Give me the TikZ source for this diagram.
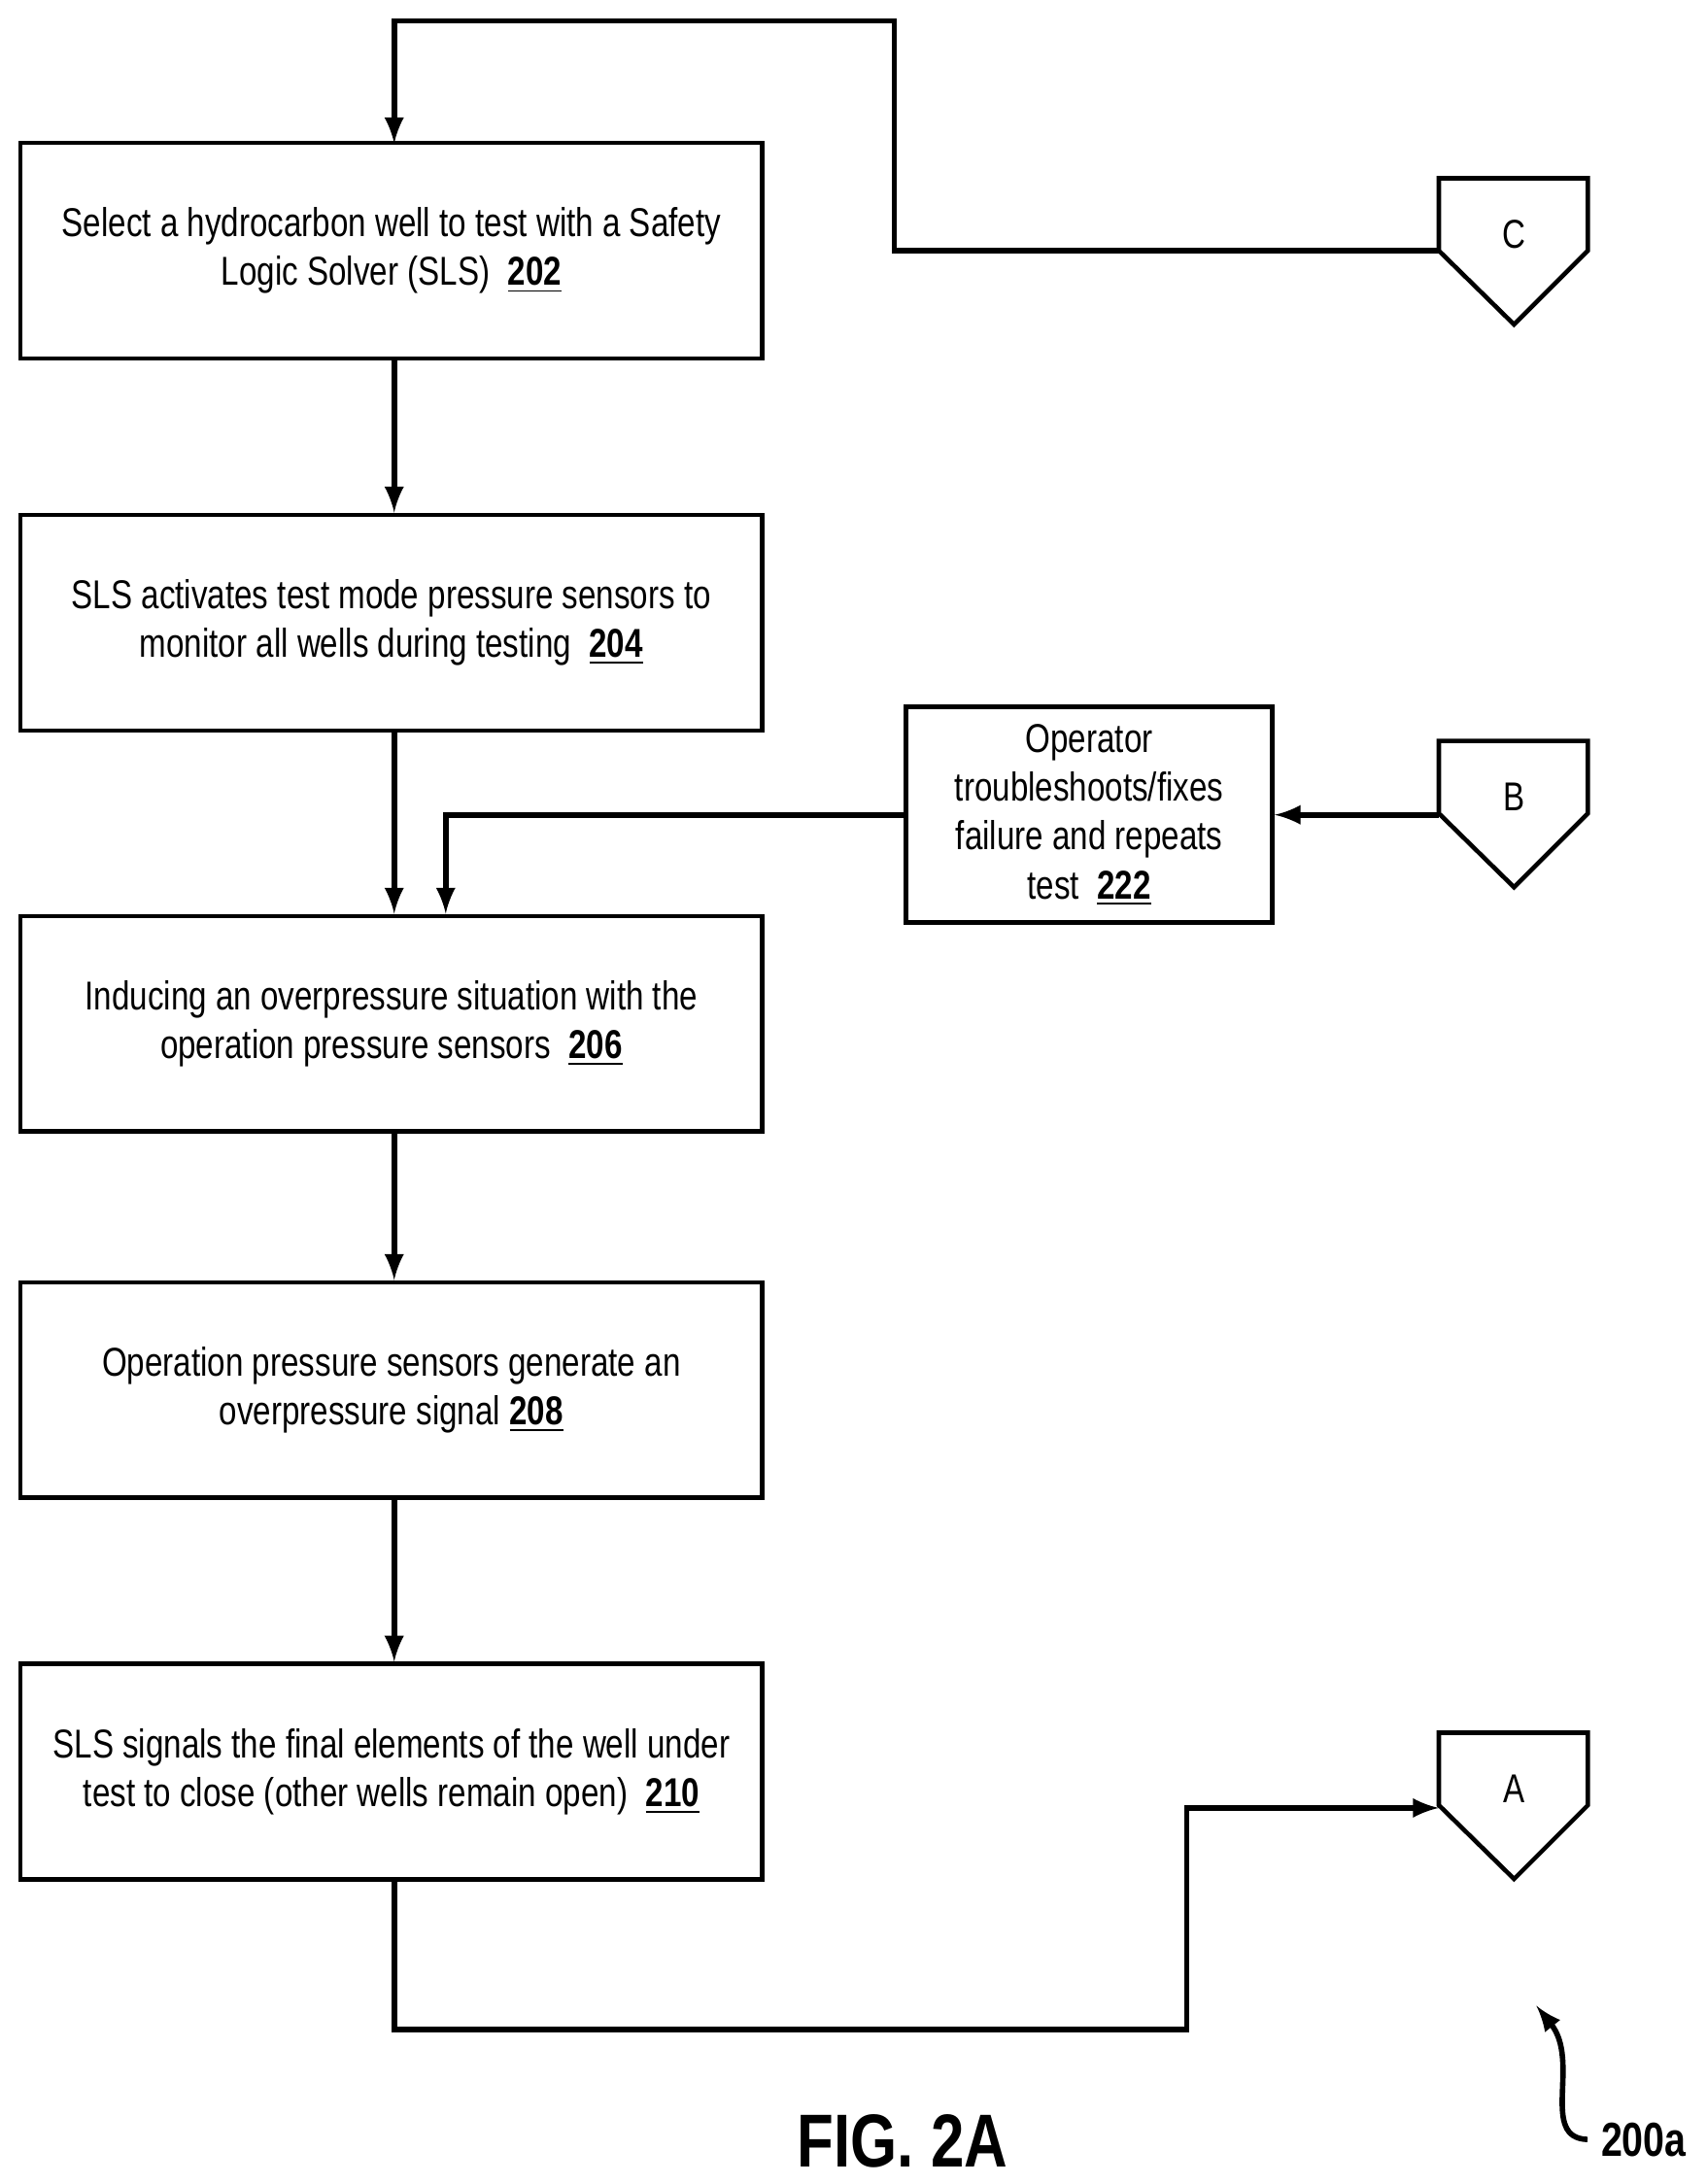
\documentclass[tikz,border=0pt]{standalone}
\usepackage{fontspec}
\setmainfont{Liberation Sans}[FakeStretch=0.8]
\usetikzlibrary{positioning}
\newcommand{\refnum}[1]{\underline{\textbf{#1}}}
\begin{document}
\begin{tikzpicture}[x=0.01434cm,y=-0.01434cm,line width=1.3pt,>=latex,
    font=\fontsize{11.8}{14.3}\selectfont]
    \tikzstyle{process}=[draw,rectangle,inner sep=0pt,align=center]
    \tikzstyle{flow}=[->,line width=1.6pt]
    \useasboundingbox (0,0) rectangle (1225,1568);

    % Main steps
    \node[process,minimum width=7.64cm,minimum height=2.22cm] (s202) at (281,180)
        {Select a hydrocarbon well to test with a Safety\\Logic Solver (SLS)\ \ \refnum{202}};
    \node[process,minimum width=7.64cm,minimum height=2.22cm] (s204) at (281,447)
        {SLS activates test mode pressure sensors to\\monitor all wells during testing\ \ \refnum{204}};
    \node[process,minimum width=7.64cm,minimum height=2.22cm] (s206) at (281,735)
        {Inducing an overpressure situation with the\\operation pressure sensors\ \ \refnum{206}};
    \node[process,minimum width=7.64cm,minimum height=2.22cm] (s208) at (281,998)
        {Operation pressure sensors generate an\\overpressure signal \refnum{208}};
    \node[process,minimum width=7.64cm,minimum height=2.22cm] (s210) at (281,1272)
        {SLS signals the final elements of the well under\\test to close (other wells remain open)\ \ \refnum{210}};
    \node[process,minimum width=3.77cm,minimum height=2.22cm] (s222) at (782,585)
        {Operator\\troubleshoots/fixes\\failure and repeats\\test\ \ \refnum{222}};

    % Off-page connectors
    \foreach \name/\yy in {C/128,B/532,A/1244} {
        \draw (1033,\yy) -- (1140,\yy) -- (1140,\yy+52) -- (1087,\yy+105)
            -- (1033,\yy+52) -- cycle;
        \node (c\name) at (1087,\yy+40) {\name};
        \coordinate (c\name-w) at (1033,\yy+52);
    }

    % Connectors
    \draw[flow] (cC-w) -- (642,180) -- (642,15) -- (283,15) -- (283,103);
    \draw[flow] (s202.south -| 283,0) -- (s204.north -| 283,0);
    \draw[flow] (s204.south -| 283,0) -- (s206.north -| 283,0);
    \draw[flow] (s206.south -| 283,0) -- (s208.north -| 283,0);
    \draw[flow] (s208.south -| 283,0) -- (s210.north -| 283,0);
    \draw[flow] (s222.west) -- (320,585) -- (s206.north -| 320,0);
    \draw[flow] (cB-w |- 0,585) -- (s222.east);
    \draw[flow] (s210.south -| 283,0) -- (283,1457) -- (852,1457) -- (852,1298) -- (cA-w |- 0,1298);

    % Labels
    \node[font=\fontsize{22}{26}\selectfont\bfseries] (fig) at (648,1537) {FIG. 2A};
    \node[font=\fontsize{14}{17}\selectfont\bfseries] (lbl) at (1180,1536) {200a};
    \draw[->,line width=1.6pt] (lbl.west) .. controls (1105,1535) and (1135,1480) .. (1103,1440);
\end{tikzpicture}
\end{document}
